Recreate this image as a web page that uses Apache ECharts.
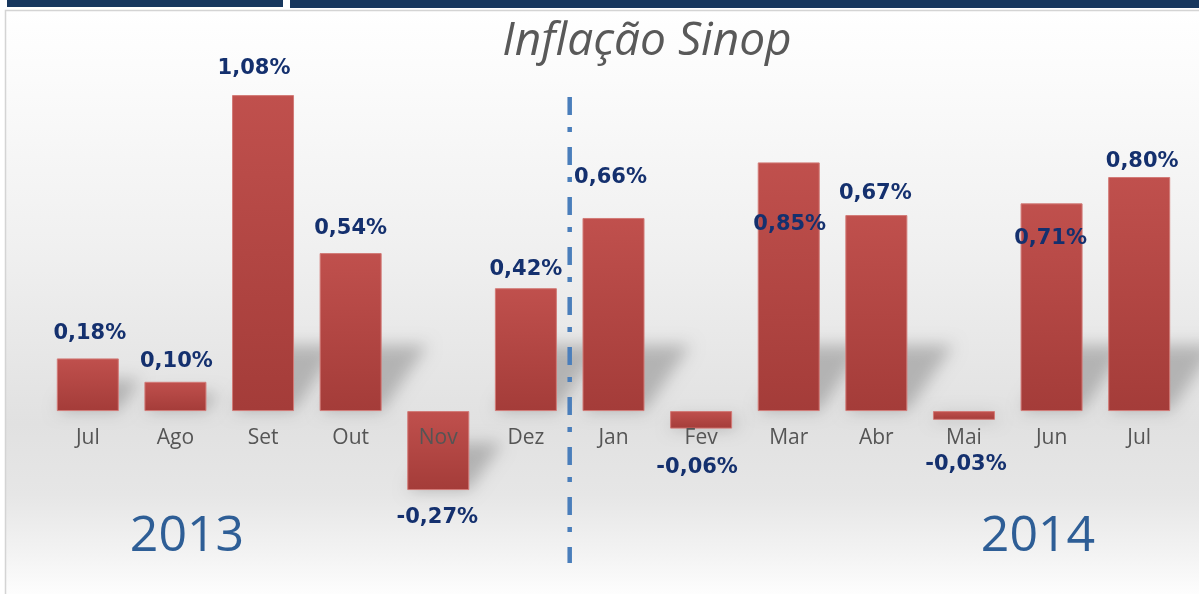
<!DOCTYPE html>
<html>
<head>
<meta charset="utf-8">
<script src="https://cdn.jsdelivr.net/npm/echarts@6/dist/echarts.min.js"></script>
<style>
html,body{margin:0;padding:0;background:#ffffff;}
#chart{width:1199px;height:594px;}
</style>
</head>
<body>
<div id="chart"></div>
<script>
// ---- data ----
const categories = ['Jul','Ago','Set','Out','Nov','Dez','Jan','Fev','Mar','Abr','Mai','Jun','Jul'];
const inflation = [0.18, 0.10, 1.08, 0.54, -0.27, 0.42, 0.66, -0.06, 0.85, 0.67, -0.03, 0.71, 0.80];
const years = ['2013', '2014'];
const titleText = 'Inflação Sinop';

// ---- label styling (pixel nudges outward from bar end) ----
const labelShift = [25, 20, 27, 25, 27, 19, 40, 39, -62, 22, 45, -35, 15];
const labelShiftX = [2, 1, -9, 0, -1, 0, -3, -4, 1, -1, 2, -1, 3];

function fmt(v){ return v.toFixed(2).replace('.', ',') + '%'; }

const chart = echarts.init(document.getElementById('chart'), null, {renderer:'canvas'});

const seriesData = inflation.map((v, i) => {
  const pos = v >= 0 ? 'top' : 'bottom';
  const s = labelShift[i] - 10.5;
  return {
    value: v,
    label: {
      position: pos,
      distance: 0,
      offset: [labelShiftX[i], v >= 0 ? -s : s]
    }
  };
});

const BAR_W = 62;

function renderShadow(params, api) {
  const idx = api.value(0);
  const v = api.value(1);
  const base = api.coord([idx, 0]);
  const end = api.coord([idx, v]);
  const h = Math.abs(base[1] - end[1]);
  const xl = base[0] - BAR_W / 2;
  const xr = base[0] + BAR_W / 2;
  const y0 = v >= 0 ? base[1] : end[1];
  const len = Math.min(h, 110);
  const dx = len * 0.42;
  const dy = len * 0.6;
  const OFF = 3000;
  return {
    type: 'polygon',
    silent: true,
    shape: {
      points: [
        [xl - OFF, y0], [xr - OFF, y0],
        [xr + dx - OFF, y0 - dy], [xl + dx - OFF, y0 - dy]
      ]
    },
    style: {
      fill: '#000',
      shadowColor: 'rgba(0,0,0,0.22)',
      shadowBlur: 16,
      shadowOffsetX: OFF,
      shadowOffsetY: 0
    }
  };
}

const option = {
  animation: false,
  backgroundColor: 'transparent',
  title: {
    text: titleText,
    left: 642,
    top: 14,
    textAlign: 'center',
    textStyle: {
      fontFamily: 'Open Sans',
      fontStyle: 'italic',
      fontWeight: 'normal',
      fontSize: 46,
      color: '#595959'
    }
  },
  grid: { left: 44, right: 16, top: 60, bottom: 7.4, containLabel: false, outerBoundsMode: 'none' },
  xAxis: {
    type: 'category',
    data: categories,
    position: 'bottom',
    z: 5,
    axisLine: { show: false, onZero: false },
    axisTick: { show: false },
    axisLabel: {
      margin: 16,
      fontFamily: 'Open Sans',
      fontSize: 21,
      color: '#555555'
    }
  },
  yAxis: {
    type: 'value',
    min: -0.6,
    max: 1.2,
    show: false,
    splitLine: { show: false }
  },
  series: [
    {
      type: 'custom',
      z: 1,
      silent: true,
      renderItem: renderShadow,
      data: inflation.map((v, i) => [i, v])
    },
    {
      type: 'bar',
      z: 2,
      data: seriesData,
      barWidth: BAR_W,
      itemStyle: {
        color: {
          type: 'linear', x: 0, y: 0, x2: 0, y2: 1,
          colorStops: [
            { offset: 0, color: '#c0504d' },
            { offset: 1, color: '#a43c39' }
          ]
        },
        borderColor: '#d27a77',
        borderWidth: 1
      },
      label: {
        show: true,
        formatter: p => fmt(p.value),
        fontFamily: 'DejaVu Sans',
        fontWeight: 'bold',
        fontSize: 21,
        color: '#14306e'
      }
    }
  ]
};

chart.setOption(option);

// place category axis on the zero line, derived from the value scale
const zeroY = chart.convertToPixel({ yAxisIndex: 0 }, 0);
const bottomY = chart.convertToPixel({ yAxisIndex: 0 }, -0.6);
chart.setOption({ xAxis: { offset: zeroY - bottomY } });

// separator between Dez and Jan, derived from the category scale
const xDez = chart.convertToPixel({ xAxisIndex: 0 }, 5);
const xJan = chart.convertToPixel({ xAxisIndex: 0 }, 6);
const xSep = (xDez + xJan) / 2;

chart.setOption({
  graphic: [
    {
      type: 'rect', z: -10, silent: true,
      shape: { x: 5.5, y: 10.5, width: 1200, height: 590 },
      style: {
        fill: {
          type: 'linear', x: 0, y: 0, x2: 0, y2: 1,
          colorStops: [
            { offset: 0, color: '#ffffff' },
            { offset: 0.12, color: '#fbfbfb' },
            { offset: 0.4, color: '#f0f0f0' },
            { offset: 0.7, color: '#e1e1e1' },
            { offset: 0.82, color: '#e6e6e6' },
            { offset: 0.92, color: '#f3f3f3' },
            { offset: 1, color: '#ffffff' }
          ]
        },
        stroke: '#d4d4d4',
        lineWidth: 1.5
      }
    },
    { type: 'rect', z: -5, silent: true, shape: { x: 7, y: 0, width: 276, height: 7 }, style: { fill: '#17375e' } },
    { type: 'rect', z: -5, silent: true, shape: { x: 290, y: 0, width: 909, height: 8 }, style: { fill: '#17375e' } },
    {
      type: 'line', z: 10, silent: true,
      shape: { x1: xSep, y1: 97, x2: xSep, y2: 563 },
      style: { stroke: '#4a7ebb', lineWidth: 4.5, lineDash: [18, 12, 5, 15] }
    },
    {
      type: 'text', z: 10, silent: true,
      x: 187, y: 537,
      style: { text: years[0], fontFamily: 'Open Sans', fontSize: 50, fill: '#2e5e96', align: 'center', verticalAlign: 'middle' }
    },
    {
      type: 'text', z: 10, silent: true,
      x: 1038, y: 537,
      style: { text: years[1], fontFamily: 'Open Sans', fontSize: 50, fill: '#2e5e96', align: 'center', verticalAlign: 'middle' }
    }
  ]
});
</script>
</body>
</html>
